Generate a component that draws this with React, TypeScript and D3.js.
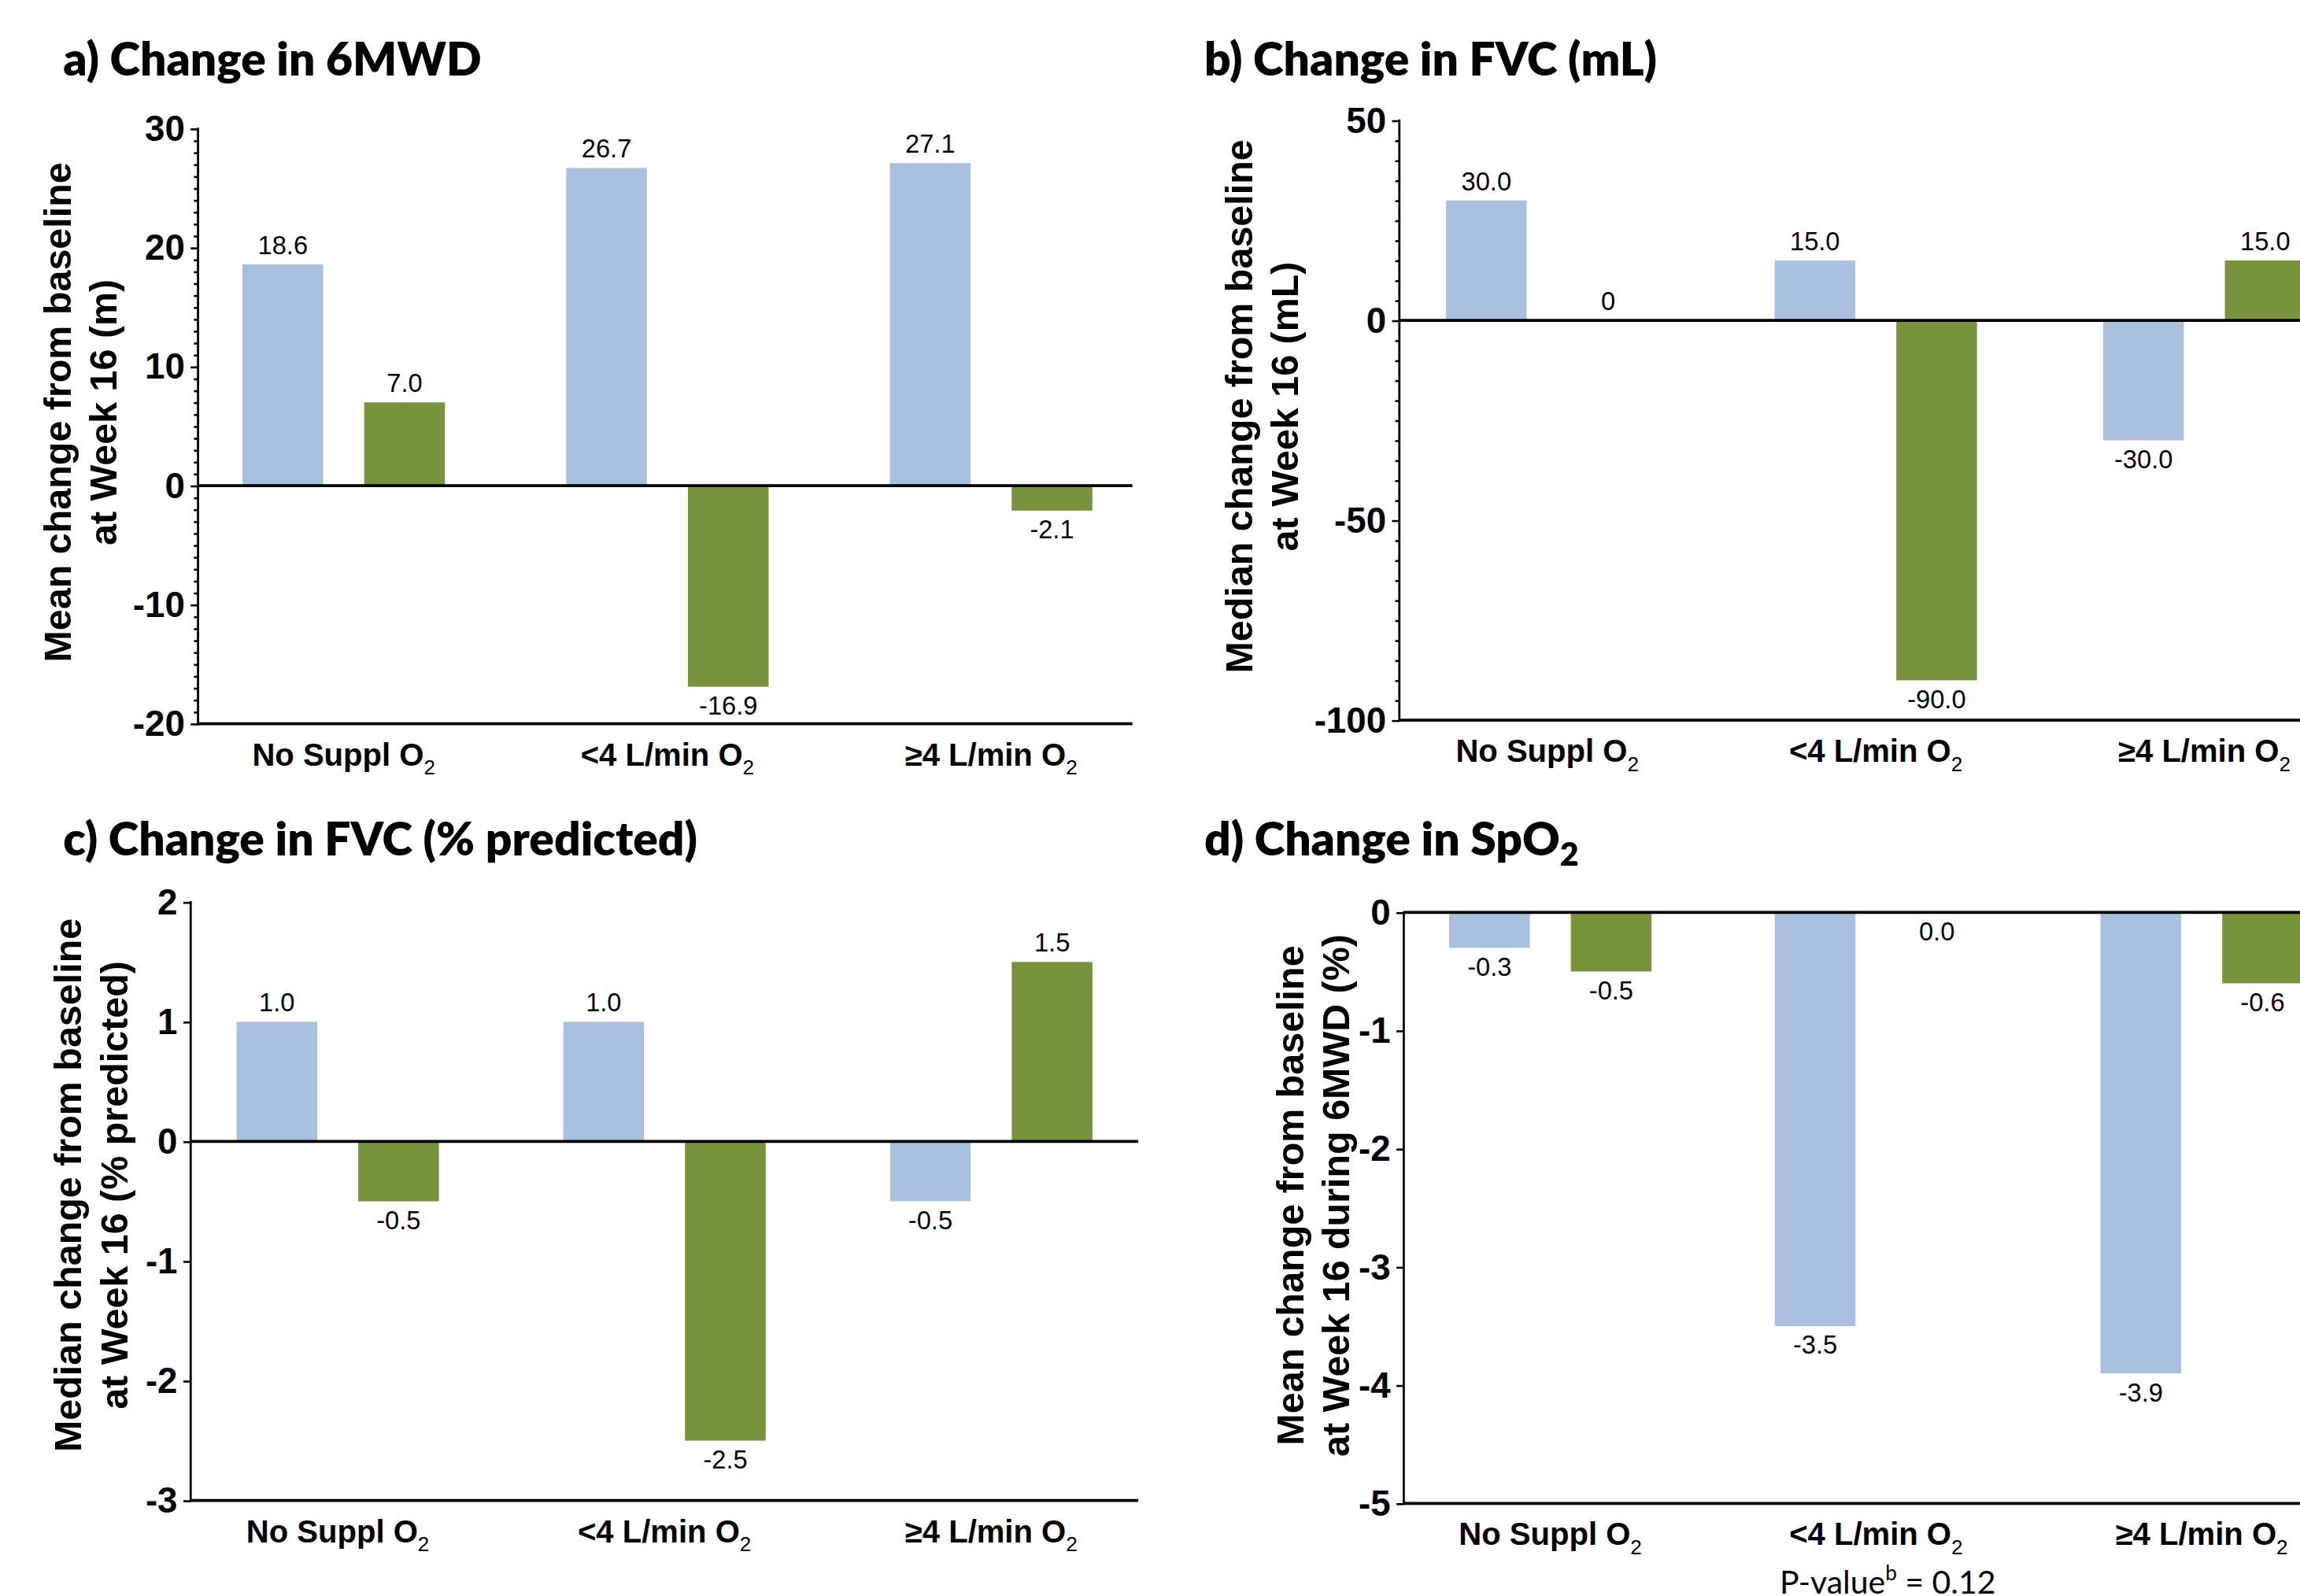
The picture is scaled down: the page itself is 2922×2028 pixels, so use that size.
import React, { useRef, useEffect } from "react";
import * as d3 from "d3";

// categories (subscript "2" is added when drawn)
const categories = ["No Suppl O", "<4 L/min O", "≥4 L/min O"];
const seriesNames = ["blue", "green"];
const seriesColors = ["#a9c1df", "#77933c"];

// a) 6MWD, mean change (m)
const sixMwdBlue = [18.6, 26.7, 27.1];
const sixMwdGreen = [7.0, -16.9, -2.1];
// b) FVC, median change (mL)
const fvcMlBlue = [30.0, 15.0, -30.0];
const fvcMlGreen = [0, -90.0, 15.0];
// c) FVC, median change (% predicted)
const fvcPctBlue = [1.0, 1.0, -0.5];
const fvcPctGreen = [-0.5, -2.5, 1.5];
// d) SpO2, mean change (%)
const spo2Blue = [-0.3, -3.5, -3.9];
const spo2Green = [-0.5, 0.0, -0.6];

const titleFont = "Lato, 'Open Sans', sans-serif";
const sansFont = "'Liberation Sans', Arial, sans-serif";

const panels = [
  {
    id: "a", title: "a) Change in 6MWD", titleSub: "", tx: 43, ty: 51.5,
    yTitle: ["Mean change from baseline", "at Week 16 (m)"], yTitleX: 48.3, yTitleY: 281,
    values: [sixMwdBlue, sixMwdGreen], domain: [-20, 30], major: 10, minor: 1,
    top: 87.6, bottom: 493.3, axisX: 135, xEnd: 775, zeroEnd: 772,
    fmt: (v: number) => v.toFixed(1),
  },
  {
    id: "b", title: "b) Change in FVC (mL)", titleSub: "", tx: 821, ty: 51.5,
    yTitle: ["Median change from baseline", "at Week 16 (mL)"], yTitleX: 853.5, yTitleY: 277,
    values: [fvcMlBlue, fvcMlGreen], domain: [-100, 50], major: 50, minor: 5,
    top: 82, bottom: 491, axisX: 954, xEnd: 954 + 2.9 * 224, zeroEnd: 1600,
    fmt: (v: number) => (v === 0 ? "0" : v.toFixed(1)),
  },
  {
    id: "c", title: "c) Change in FVC (% predicted)", titleSub: "", tx: 43, ty: 583,
    yTitle: ["Median change from baseline", "at Week 16 (% predicted)"], yTitleX: 55.5, yTitleY: 808,
    values: [fvcPctBlue, fvcPctGreen], domain: [-3, 2], major: 1, minor: 0,
    top: 615, bottom: 1023, axisX: 130, xEnd: 776, zeroEnd: 776,
    fmt: (v: number) => v.toFixed(1),
  },
  {
    id: "d", title: "d) Change in SpO", titleSub: "2", tx: 821, ty: 583,
    yTitle: ["Mean change from baseline", "at Week 16 during 6MWD (%)"], yTitleX: 888.5, yTitleY: 815,
    values: [spo2Blue, spo2Green], domain: [-5, 0], major: 1, minor: 0,
    top: 622, bottom: 1025, axisX: 957, xEnd: 960 + 2.9 * 221, zeroEnd: 1600,
    fmt: (v: number) => v.toFixed(1),
  },
];

function Panel({ p }: { p: any }) {
  const axisRef = useRef<SVGGElement>(null);
  const y = d3.scaleLinear().domain(p.domain).range([p.bottom, p.top]);
  const x = d3.scalePoint().domain(categories).range([p.axisX, p.xEnd]).padding(0.45);
  const inner = d3.scaleBand().domain(seriesNames).range([-69, 69]).paddingInner(0.337);

  useEffect(() => {
    const g = d3.select(axisRef.current);
    g.selectAll("*").remove();
    const major = d3.range(p.domain[0], p.domain[1] + p.major / 2, p.major);
    if (p.minor) {
      const minor = d3
        .range(p.domain[0], p.domain[1] + p.minor / 2, p.minor)
        .filter((v) => Math.abs(v % p.major) > 1e-9);
      g.append("g").call(d3.axisLeft(y).tickValues(minor).tickSize(2.8).tickFormat(() => ""));
    }
    g.append("g").call(
      d3.axisLeft(y).tickValues(major).tickSize(5).tickPadding(4).tickFormat((d) => String(d))
    );
    g.selectAll(".domain").remove();
    g.selectAll("line").attr("stroke", "#000").attr("stroke-width", 1.4);
    g.selectAll("text")
      .attr("font-family", sansFont)
      .attr("font-weight", "bold")
      .attr("font-size", 24.5)
      .attr("fill", "#000");
    g.append("line")
      .attr("x1", 0).attr("x2", 0)
      .attr("y1", y(p.domain[1]) - 0.7).attr("y2", y(p.domain[0]) + 1)
      .attr("stroke", "#000").attr("stroke-width", 1.5);
  }, []);

  const zeroAbove = p.domain[1] > 0;

  return (
    <g>
      <text x={p.tx} y={p.ty} fontFamily={titleFont} fontWeight={800} fontSize={31.5} fill="#000">
        {p.title}
        {p.titleSub && <tspan fontSize={22} dy={7}>{p.titleSub}</tspan>}
      </text>
      <text
        transform={`translate(${p.yTitleX},${p.yTitleY}) rotate(-90)`}
        textAnchor="middle" fontFamily={sansFont} fontWeight="bold" fontSize={26} fill="#000"
      >
        <tspan x={0} y={0}>{p.yTitle[0]}</tspan>
        <tspan x={0} y={31.3}>{p.yTitle[1]}</tspan>
      </text>

      {categories.map((c, ci) =>
        seriesNames.map((s, si) => {
          const v = p.values[si][ci];
          const cx = (x(c) as number) + (inner(s) as number);
          const y0 = y(0);
          const y1 = y(v);
          const lx = cx + inner.bandwidth() / 2;
          const above = v > 0 || (v === 0 && zeroAbove);
          return (
            <g key={c + s}>
              {v !== 0 && (
                <rect x={cx} width={inner.bandwidth()} y={Math.min(y0, y1)} height={Math.abs(y1 - y0)} fill={seriesColors[si]} />
              )}
              <text
                x={lx} y={above ? y1 - 7 : y1 + 19}
                textAnchor="middle" fontFamily={sansFont} fontSize={17.5} fill="#000"
              >
                {p.fmt(v)}
              </text>
            </g>
          );
        })
      )}

      <line x1={p.axisX} x2={p.zeroEnd} y1={y(0)} y2={y(0)} stroke="#000" strokeWidth={2} />
      <line x1={p.axisX} x2={p.zeroEnd} y1={y(p.domain[0])} y2={y(p.domain[0])} stroke="#000" strokeWidth={2} />
      <g ref={axisRef} transform={`translate(${p.axisX},0)`} />

      {categories.map((c) => (
        <text key={c} x={x(c)} y={p.bottom + 28.5} textAnchor="middle" fontFamily={sansFont} fontWeight="bold" fontSize={21.5} fill="#000">
          {c}
          <tspan fontSize={14} fontWeight="normal" dy={6}>2</tspan>
        </text>
      ))}
    </g>
  );
}

export default function App() {
  return (
    <svg
      width={2922} height={2028} viewBox="0 0 1568 1088"
      style={{ position: "absolute", left: 0, top: 0, background: "#fff" }}
    >
      <rect width={1568} height={1088} fill="#fff" />
      {panels.map((p) => (
        <Panel key={p.id} p={p} />
      ))}
      <text x={1287} y={1086.5} textAnchor="middle" fontFamily={titleFont} fontSize={22} fill="#000">
        P-value
        <tspan fontSize={14} dy={-9}>b</tspan>
        <tspan dy={9}> = 0.12</tspan>
      </text>
    </svg>
  );
}
